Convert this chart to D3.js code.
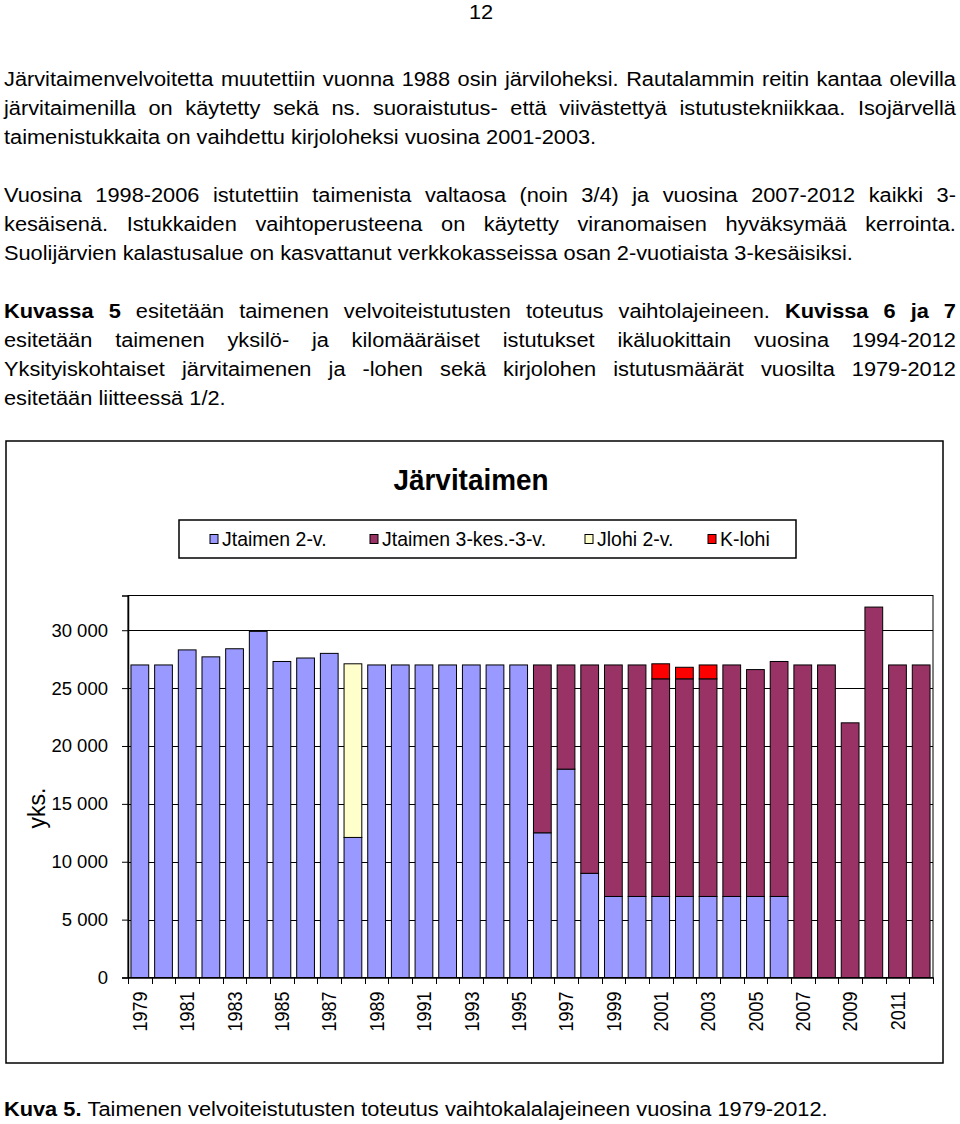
<!DOCTYPE html>
<html><head><meta charset="utf-8">
<script src="https://cdn.jsdelivr.net/npm/d3@7"></script>
<style>
body{margin:0;background:#fff}
svg{display:block;font-family:"Liberation Sans",Arial,sans-serif}
</style>
</head><body>
<svg id="c" width="960" height="1124"></svg>
<script>
// ---------- data ----------
const years = ["1979","1980","1981","1982","1983","1984","1985","1986","1987","1988",
  "1989","1990","1991","1992","1993","1994","1995","1996","1997","1998",
  "1999","2000","2001","2002","2003","2004","2005","2006","2007","2008",
  "2009","2010","2011","2012"];
const jtaimen2v = [27000,27000,28300,27700,28400,29900,27300,27600,28000,12100,
  27000,27000,27000,27000,27000,27000,27000,12500,18000,9000,
  7000,7000,7000,7000,7000,7000,7000,7000,0,0,
  0,0,0,0];
const jtaimen3kes = [0,0,0,0,0,0,0,0,0,0,
  0,0,0,0,0,0,0,14500,9000,18000,
  20000,20000,18800,18800,18800,20000,19600,20300,27000,27000,
  22000,32000,27000,27000];
const jlohi2v = [0,0,0,0,0,0,0,0,0,15000,
  0,0,0,0,0,0,0,0,0,0,
  0,0,0,0,0,0,0,0,0,0,
  0,0,0,0];
const klohi = [0,0,0,0,0,0,0,0,0,0,
  0,0,0,0,0,0,0,0,0,0,
  0,0,1300,1000,1200,0,0,0,0,0,
  0,0,0,0];
const seriesNames = ["Jtaimen 2-v.","Jtaimen 3-kes.-3-v.","Jlohi 2-v.","K-lohi"];
const seriesColors = ["#9999FF","#993366","#FFFFCC","#FF0000"];
const yTicks = [0,5000,10000,15000,20000,25000,30000];
const xTickLabels = ["1979","1981","1983","1985","1987","1989","1991","1993","1995","1997","1999","2001","2003","2005","2007","2009","2011"];
const chartTitle = "Järvitaimen";
const yAxisTitle = "yks.";

// ---------- body text ----------
const pageNumber = "12";
const bodyLines = [
  {y:86,  j:true,  s:[["Järvitaimenvelvoitetta muutettiin vuonna 1988 osin järviloheksi. Rautalammin reitin kantaa olevilla",0]]},
  {y:115, j:true,  s:[["järvitaimenilla on käytetty sekä ns. suoraistutus- että viivästettyä istutustekniikkaa. Isojärvellä",0]]},
  {y:144, j:false, s:[["taimenistukkaita on vaihdettu kirjoloheksi vuosina 2001-2003.",0]]},
  {y:202, j:true,  s:[["Vuosina 1998-2006 istutettiin taimenista valtaosa (noin 3/4) ja vuosina 2007-2012 kaikki 3-",0]]},
  {y:231, j:true,  s:[["kesäisenä. Istukkaiden vaihtoperusteena on käytetty viranomaisen hyväksymää kerrointa.",0]]},
  {y:260, j:false, s:[["Suolijärvien kalastusalue on kasvattanut verkkokasseissa osan 2-vuotiaista 3-kesäisiksi.",0]]},
  {y:318, j:true,  s:[["Kuvassa 5",1],["esitetään taimenen velvoiteistutusten toteutus vaihtolajeineen.",0],["Kuvissa 6 ja 7",1]]},
  {y:347, j:true,  s:[["esitetään taimenen yksilö- ja kilomääräiset istutukset ikäluokittain vuosina 1994-2012",0]]},
  {y:376, j:true,  s:[["Yksityiskohtaiset järvitaimenen ja -lohen sekä kirjolohen istutusmäärät vuosilta 1979-2012",0]]},
  {y:405, j:false, s:[["esitetään liitteessä 1/2.",0]]},
  {y:1116, j:false, s:[["Kuva 5.",1],["Taimenen velvoiteistutusten toteutus vaihtokalalajeineen vuosina 1979-2012.",0]]}
];

const svg = d3.select("#c");
svg.append("rect").attr("width",960).attr("height",1124).attr("fill","#fff");

const BODY_FS = 21;
const tmp = svg.append("text").attr("font-size",BODY_FS).attr("visibility","hidden");
function measure(str,bold){
  tmp.attr("font-weight",bold?"bold":"normal").text(str);
  return tmp.node().getComputedTextLength();
}
const spaceW = measure("a a",0) - measure("aa",0);
function wordsOf(line){
  const w=[];
  line.s.forEach(([t,b])=>t.split(" ").filter(x=>x.length).forEach(x=>w.push({t:x,b:b,w:measure(x,b)})));
  return w;
}
const L = 4, R = 956;
// horizontal condensation estimated from the unjustified line ending at ~853
const refWords = wordsOf(bodyLines[5]);
const refNat = d3.sum(refWords,d=>d.w) + (refWords.length-1)*spaceW;
const sx = (853 - L)/refNat;

bodyLines.forEach(line=>{
  const words = wordsOf(line);
  const sum = d3.sum(words,d=>d.w);
  const gap = line.j ? ((R-L)/sx - sum)/(words.length-1) : spaceW;
  const g = svg.append("g").attr("transform",`translate(${L},${line.y}) scale(${sx},1)`);
  let x = 0;
  words.forEach(w=>{
    g.append("text").attr("x",x).attr("font-size",BODY_FS)
      .attr("font-weight",w.b?"bold":"normal").attr("fill","#000").text(w.t);
    x += w.w + gap;
  });
});
tmp.remove();

svg.append("text").attr("transform",`translate(481,19) scale(${sx},1)`).attr("text-anchor","middle")
  .attr("font-size",BODY_FS).text(pageNumber);

// ---------- chart ----------
svg.append("rect").attr("x",6).attr("y",441).attr("width",937).attr("height",622)
  .attr("fill","#fff").attr("stroke","#000").attr("stroke-width",1.5);

svg.append("text").attr("transform","translate(471,490) scale(0.93,1)").attr("text-anchor","middle")
  .attr("font-size",30).attr("font-weight","bold").text(chartTitle);

// legend
svg.append("rect").attr("x",179).attr("y",520).attr("width",617).attr("height",38)
  .attr("fill","#fff").attr("stroke","#000").attr("stroke-width",1.5);
const legendX = [210,370,585,708];
seriesNames.forEach((n,i)=>{
  svg.append("rect").attr("x",legendX[i]).attr("y",534.5).attr("width",8).attr("height",9)
    .attr("fill",seriesColors[i]).attr("stroke","#000").attr("stroke-width",1);
  svg.append("text").attr("transform",`translate(${legendX[i]+12},546) scale(0.95,1)`)
    .attr("font-size",20.5).text(n);
});

const x = d3.scaleBand().domain(years).range([128,933]).paddingInner(0.25).paddingOuter(0.125);
const y = d3.scaleLinear().domain([0,33000]).range([977.5,595.5]);

// gridlines
svg.append("g").selectAll("line").data(yTicks.filter(v=>v>0)).join("line")
  .attr("x1",128).attr("x2",933)
  .attr("y1",d=>Math.round(y(d))+0.5).attr("y2",d=>Math.round(y(d))+0.5)
  .attr("stroke","#000").attr("stroke-width",1);

// plot border
svg.append("rect").attr("x",128).attr("y",595.5).attr("width",805).attr("height",382)
  .attr("fill","none").attr("stroke","#000").attr("stroke-width",1);

const rows = years.map((yr,i)=>({year:yr, v:[jtaimen2v[i],jtaimen3kes[i],jlohi2v[i],klohi[i]]}));
const stack = d3.stack().keys([0,1,2,3]).value((d,k)=>d.v[k]);
const layers = stack(rows);
svg.append("g").selectAll("g").data(layers).join("g")
  .attr("fill",(d,i)=>seriesColors[i])
  .selectAll("rect").data(d=>d.filter(p=>p[1]-p[0]>0)).join("rect")
  .attr("x",d=>x(d.data.year)).attr("width",x.bandwidth())
  .attr("y",d=>y(d[1])).attr("height",d=>y(d[0])-y(d[1]))
  .attr("stroke","#000").attr("stroke-width",1);

// y axis
const fmt = d3.formatLocale({decimal:",",thousands:"\u00a0",grouping:[3],currency:["","€"]}).format(",d");
const ya = svg.append("g").attr("transform","translate(128,0)")
  .call(d3.axisLeft(y).tickValues(yTicks).tickSize(6).tickPadding(14).tickFormat(fmt));
ya.select(".domain").attr("stroke","#000").attr("stroke-width",1.5);
ya.selectAll("text").attr("font-size",18.5).attr("font-family","Liberation Sans, Arial, sans-serif").attr("fill","#000");
ya.selectAll("line").attr("stroke","#000");

// x axis
const xa = svg.append("g").attr("transform","translate(0,977.5)")
  .call(d3.axisBottom(x).tickSize(0).tickFormat(d=>xTickLabels.includes(d)?d:""));
xa.select(".domain").attr("stroke","#000").attr("stroke-width",1.5);
xa.selectAll("text").attr("font-size",20).attr("font-family","Liberation Sans, Arial, sans-serif")
  .attr("fill","#000").attr("transform","rotate(-90) scale(0.9,1)").attr("text-anchor","end")
  .attr("x",-15.5).attr("y",0).attr("dy","0.36em");
// boundary tick marks
const step = x.step();
const x0 = x.range()[0];
svg.append("g").selectAll("line").data(d3.range(years.length+1)).join("line")
  .attr("x1",i=>Math.round(x0+i*step)+0.5).attr("x2",i=>Math.round(x0+i*step)+0.5)
  .attr("y1",977.5).attr("y2",984).attr("stroke","#000").attr("stroke-width",1);

// y title
svg.append("text").attr("transform","translate(45,808) rotate(-90)")
  .attr("text-anchor","middle").attr("font-size",23).text(yAxisTitle);
</script>
</body></html>
